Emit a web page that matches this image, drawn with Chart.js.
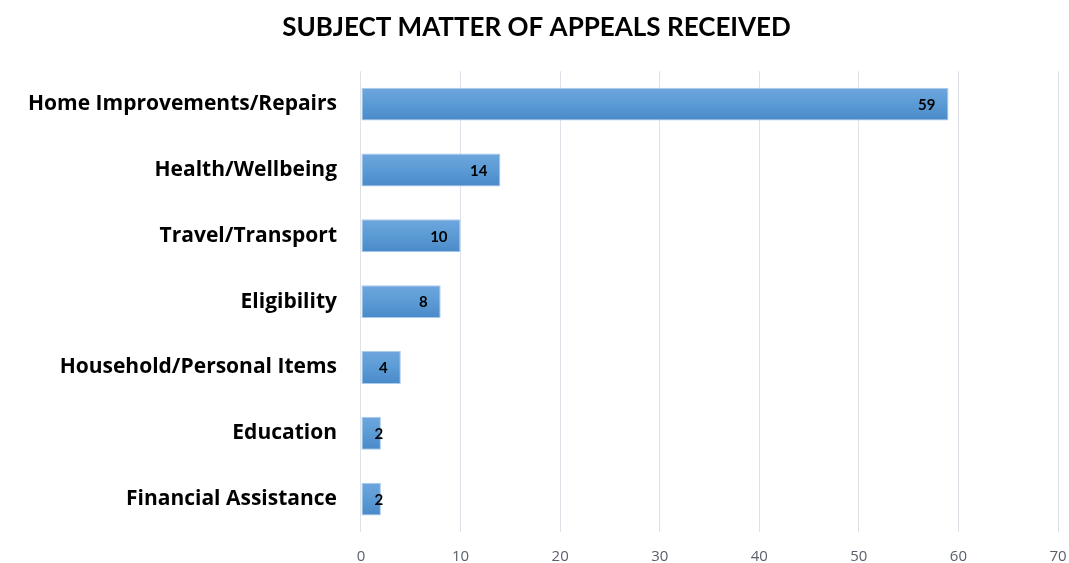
<!DOCTYPE html>
<html>
<head>
<meta charset="utf-8">
<script src="https://cdn.jsdelivr.net/npm/chart.js@4"></script>
<style>
    html, body { margin: 0; padding: 0; background: #fff; overflow: hidden; }
    canvas { display: block; }
</style>
</head>
<body>
<canvas id="appealsChart" width="1069" height="563"></canvas>
<script>
// ================= Data =================
const categories = [
    "Home Improvements/Repairs",
    "Health/Wellbeing",
    "Travel/Transport",
    "Eligibility",
    "Household/Personal Items",
    "Education",
    "Financial Assistance"
];
const appealCounts = [59, 14, 10, 8, 4, 2, 2];
const tickLabels = [0, 10, 20, 30, 40, 50, 60, 70];

const FONT = "'Open Sans', sans-serif";
const NARROW = "Lato, sans-serif";

// vertical gradient per bar (lighter top, darker bottom)
function barGradient(context) {
    const chart = context.chart;
    const yScale = chart.scales.y;
    if (!chart.chartArea || !yScale) return "#5B9BD5";
    const cy = yScale.getPixelForValue(context.dataIndex);
    const half = yScale.height / categories.length / 4;
    const g = chart.ctx.createLinearGradient(0, cy - half, 0, cy + half);
    g.addColorStop(0, "#6EA6DD");
    g.addColorStop(0.5, "#5B9BD5");
    g.addColorStop(1, "#4A89C8");
    return g;
}

// ================= Value labels (inside end) =================
const insideEndLabels = {
    id: "insideEndLabels",
    afterDatasetsDraw(chart) {
        const ctx = chart.ctx;
        const meta = chart.getDatasetMeta(0);
        ctx.save();
        ctx.font = "bold 15px " + NARROW;
        ctx.fillStyle = "#000";
        ctx.textBaseline = "middle";
        ctx.textAlign = "left";
        meta.data.forEach((bar, i) => {
            const text = String(appealCounts[i]);
            const w = ctx.measureText(text).width;
            let left = bar.x - 13 - w;
            if (left < bar.base + 13) left = bar.base + 13;
            ctx.fillText(text, left, bar.y + 1);
        });
        ctx.restore();
    }
};

new Chart(document.getElementById("appealsChart"), {
    type: "bar",
    data: {
        labels: categories,
        datasets: [{
            data: appealCounts,
            backgroundColor: barGradient,
            borderColor: "#A9CBEC",
            borderWidth: 1,
            borderSkipped: false,
            categoryPercentage: 1,
            barPercentage: 0.5
        }]
    },
    options: {
        indexAxis: "y",
        responsive: false,
        animation: false,
        layout: {
            padding: { left: 4, right: 0, top: 12, bottom: 0 }
        },
        plugins: {
            legend: { display: false },
            tooltip: { enabled: false },
            title: {
                display: true,
                text: "SUBJECT MATTER OF APPEALS RECEIVED",
                color: "#000",
                font: { family: NARROW, size: 26, weight: "bold" },
                padding: { top: 0, bottom: 28 }
            }
        },
        scales: {
            x: {
                min: 0,
                max: 70,
                afterBuildTicks: (axis) => {
                    axis.ticks = tickLabels.map(v => ({ value: v }));
                },
                // keep the axis compact so the plot reaches the same edges as the original
                afterFit: (axis) => {
                    axis.height = 31;
                    axis.paddingRight = 11;
                },
                ticks: {
                    color: "#595F6B",
                    font: { family: FONT, size: 15 },
                    padding: 16
                },
                grid: {
                    color: "#DEE2E8",
                    drawTicks: false
                },
                border: { display: false }
            },
            y: {
                afterFit: (axis) => {
                    axis.paddingTop = 0;
                    axis.paddingBottom = 0;
                },
                ticks: {
                    color: "#000",
                    font: { family: FONT, size: 21, weight: "bold" },
                    padding: 24
                },
                grid: { display: false, drawTicks: false },
                border: { display: false }
            }
        }
    },
    plugins: [insideEndLabels]
});
</script>
</body>
</html>
